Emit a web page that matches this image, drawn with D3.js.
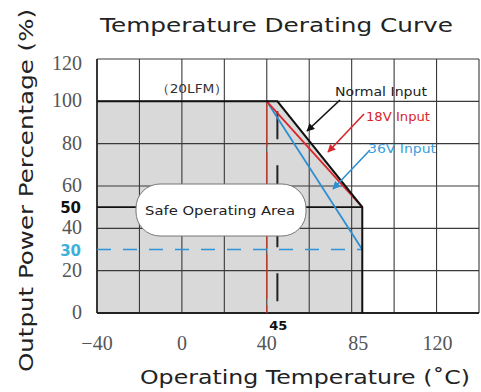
<!DOCTYPE html>
<html><head><meta charset="utf-8">
<script src="https://cdn.jsdelivr.net/npm/d3@7"></script>
<style>body{margin:0;background:#fff}svg{display:block}</style>
</head><body>
<script>
const xTicks = [-40, 0, 40, 85, 120];
const yTicks = [0, 20, 40, 60, 80, 100, 120];
const xGrid = [-40, -20, 0, 20, 40, 60, 80, 100, 120, 140];
const yGrid = [0, 20, 40, 60, 80, 100, 120];
const normalInput = [[-40, 100], [45, 100], [85, 50], [85, 0]];
const safeArea = [[-40, 0], [-40, 100], [45, 100], [85, 50], [85, 0]];
const input18V = [[40, 100], [85, 50]];
const input36V = [[40, 100], [85, 30]];
const level50 = 50, level30 = 30, temp40 = 40, temp45 = 45;

const W = 481, H = 392;
const svg = d3.select("body").append("svg").attr("width", W).attr("height", H);
const x = d3.scaleLinear().domain([-40, 140]).range([97, 479]);
const y = d3.scaleLinear().domain([0, 120]).range([313, 59]);
const line = d3.line().x(d => x(d[0])).y(d => y(d[1]));
const sans = "'DejaVu Sans', 'Open Sans', sans-serif";
const serif = "'Liberation Serif', 'DejaVu Serif', serif";

// safe area fill
svg.append("path").attr("d", line(safeArea) + "Z").attr("fill", "#d9d9d9");

// grid
const g = svg.append("g");
g.selectAll(".vx").data(xGrid).join("line")
  .attr("x1", d => x(d)).attr("x2", d => x(d)).attr("y1", y(0)).attr("y2", y(120))
  .attr("stroke", "#3a3a3a").attr("stroke-width", 1.1);
g.selectAll(".hy").data(yGrid).join("line")
  .attr("x1", x(-40)).attr("x2", x(140)).attr("y1", d => y(d)).attr("y2", d => y(d))
  .attr("stroke", "#3a3a3a").attr("stroke-width", 1.1);
svg.append("line").attr("x1", x(-40)).attr("x2", x(140)).attr("y1", y(0)).attr("y2", y(0))
  .attr("stroke", "#222").attr("stroke-width", 2);
svg.append("line").attr("x1", x(-40)).attr("x2", x(-40)).attr("y1", y(0)).attr("y2", y(120))
  .attr("stroke", "#222").attr("stroke-width", 1.6);

// 50% line
svg.append("line").attr("x1", x(-40)).attr("x2", x(85)).attr("y1", y(level50)).attr("y2", y(level50))
  .attr("stroke", "#111").attr("stroke-width", 1.8);
// 30% dashed blue
svg.append("line").attr("x1", x(-40)).attr("x2", x(85)).attr("y1", y(level30)).attr("y2", y(level30))
  .attr("stroke", "#2f95d8").attr("stroke-width", 1.6).attr("stroke-dasharray", "14,12");
// 40 red dashed
svg.append("line").attr("x1", x(temp40)).attr("x2", x(temp40)).attr("y1", y(100)).attr("y2", y(0))
  .attr("stroke", "#c0392b").attr("stroke-width", 1.3).attr("stroke-dasharray", "45,6");
// 45 black dashed
svg.append("line").attr("x1", x(temp45)).attr("x2", x(temp45)).attr("y1", y(100)).attr("y2", y(0))
  .attr("stroke", "#222").attr("stroke-width", 2).attr("stroke-dasharray", "28,26").attr("stroke-dashoffset", -10);

// curves
svg.append("path").attr("d", line(input36V)).attr("fill", "none").attr("stroke", "#2f8fd0").attr("stroke-width", 1.8);
svg.append("path").attr("d", line(input18V)).attr("fill", "none").attr("stroke", "#d8262c").attr("stroke-width", 1.8);
svg.append("path").attr("d", line(normalInput)).attr("fill", "none").attr("stroke", "#111").attr("stroke-width", 2);

// Safe operating area bubble
svg.append("rect").attr("x", 136).attr("y", 184).attr("width", 170).attr("height", 52)
  .attr("rx", 24).attr("ry", 24).attr("fill", "#fff").attr("stroke", "#777").attr("stroke-width", 1);
svg.append("text").attr("x", 145).attr("y", 215)
  .attr("font-family", sans).attr("font-size", 13).attr("fill", "#222")
  .attr("textLength", 150).attr("lengthAdjust", "spacingAndGlyphs")
  .text("Safe Operating Area");

// annotations
svg.append("text").attr("x", 156).attr("y", 93)
  .attr("font-family", sans).attr("font-size", 13).attr("fill", "#333")
  .attr("textLength", 72).attr("lengthAdjust", "spacingAndGlyphs").text("（20LFM）");
svg.append("text").attr("x", 335).attr("y", 96).attr("font-family", sans).attr("font-size", 11.5)
  .attr("fill", "#222").attr("textLength", 92).attr("lengthAdjust", "spacingAndGlyphs").text("Normal Input");
svg.append("text").attr("x", 366).attr("y", 121).attr("font-family", sans).attr("font-size", 11.5)
  .attr("fill", "#d8262c").attr("textLength", 64).attr("lengthAdjust", "spacingAndGlyphs").text("18V Input");
svg.append("text").attr("x", 368).attr("y", 153).attr("font-family", sans).attr("font-size", 11.5)
  .attr("fill", "#3aa0dc").attr("textLength", 68).attr("lengthAdjust", "spacingAndGlyphs").text("36V Input");

const defs = svg.append("defs");
[["k", "#111"], ["r", "#d8262c"], ["b", "#2f8fd0"]].forEach(([id, c]) => {
  defs.append("marker").attr("id", "arr" + id).attr("viewBox", "0 0 10 10").attr("refX", 9).attr("refY", 5)
    .attr("markerWidth", 5).attr("markerHeight", 5).attr("orient", "auto")
    .append("path").attr("d", "M0,0L10,5L0,10Z").attr("fill", c);
});
svg.append("line").attr("x1", 340).attr("y1", 100).attr("x2", 307).attr("y2", 131)
  .attr("stroke", "#111").attr("stroke-width", 1.6).attr("marker-end", "url(#arrk)");
svg.append("line").attr("x1", 364).attr("y1", 114).attr("x2", 328).attr("y2", 152)
  .attr("stroke", "#d8262c").attr("stroke-width", 1.6).attr("marker-end", "url(#arrr)");
svg.append("line").attr("x1", 370).attr("y1", 150).attr("x2", 333).attr("y2", 189)
  .attr("stroke", "#2f8fd0").attr("stroke-width", 1.6).attr("marker-end", "url(#arrb)");

// tick labels
svg.selectAll(".yt").data(yTicks).join("text")
  .attr("x", 82).attr("y", d => (d === 120 ? y(d) + 5 : y(d)) + 6).attr("text-anchor", "end")
  .attr("font-family", serif).attr("font-size", 20).attr("fill", "#555").text(d => d);
svg.append("text").attr("x", 81).attr("y", y(level50) + 6).attr("text-anchor", "end")
  .attr("font-family", sans).attr("font-weight", "bold").attr("font-size", 15).attr("fill", "#111").text(level50);
svg.append("text").attr("x", 81).attr("y", y(level30) + 6).attr("text-anchor", "end")
  .attr("font-family", sans).attr("font-weight", "bold").attr("font-size", 15).attr("fill", "#3db0d9").text(level30);
svg.selectAll(".xt").data(xTicks).join("text")
  .attr("x", d => x(d) - (d === 85 ? 4 : d === 120 ? -1 : 0)).attr("y", 350).attr("text-anchor", "middle")
  .attr("font-family", serif).attr("font-size", 20).attr("fill", "#555").text(d => d < 0 ? "\u2212" + Math.abs(d) : d);
svg.append("text").attr("x", x(temp45) + 1).attr("y", 330).attr("text-anchor", "middle")
  .attr("font-family", sans).attr("font-weight", "bold").attr("font-size", 13).attr("fill", "#111").text(temp45);

// titles
svg.append("text").attr("x", 100).attr("y", 32)
  .attr("font-family", sans).attr("font-size", 20).attr("fill", "#222")
  .attr("textLength", 353).attr("lengthAdjust", "spacingAndGlyphs").text("Temperature Derating Curve");
svg.append("text").attr("x", 140).attr("y", 384)
  .attr("font-family", sans).attr("font-size", 20).attr("fill", "#222")
  .attr("textLength", 330).attr("lengthAdjust", "spacingAndGlyphs").text("Operating Temperature (˚C)");
svg.append("text").attr("transform", "translate(33,372) rotate(-90)")
  .attr("font-family", sans).attr("font-size", 20).attr("fill", "#222")
  .attr("textLength", 363).attr("lengthAdjust", "spacingAndGlyphs").text("Output  Power Percentage (%)");
</script>
</body></html>
